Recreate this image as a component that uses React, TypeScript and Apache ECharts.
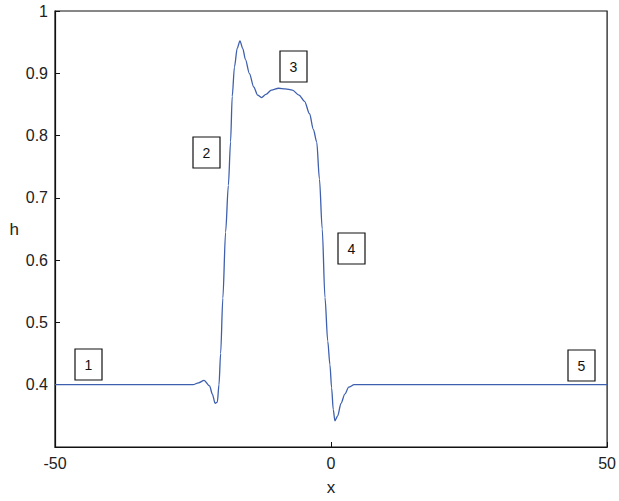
import React, { useEffect, useRef } from "react";
import * as echarts from "echarts";

const xValues = [
  -50, -25, -24, -23, -22, -21.5, -21, -20.6, -20.3, -20, -19.6, -19.1, -18.6, -18.2,
  -17.9, -17.5, -17, -16.5, -16, -15.5, -14.8, -14, -13.3, -12.6, -11.8, -10.8, -9.5,
  -8.3, -7, -5.8, -4.8, -3.9, -3.2, -2.6, -2.1, -1.6, -1.1, -0.6, -0.2, 0.1, 0.4, 0.7,
  1.2, 1.8, 2.5, 3.2, 4.2, 50,
];
const hValues = [
  0.4, 0.4, 0.403, 0.407, 0.398, 0.385, 0.37, 0.372, 0.4, 0.45, 0.539, 0.645, 0.72, 0.79,
  0.863, 0.91, 0.94, 0.952, 0.94, 0.922, 0.9, 0.878, 0.865, 0.861, 0.866, 0.873, 0.876,
  0.875, 0.873, 0.865, 0.855, 0.835, 0.81, 0.79, 0.73, 0.65, 0.54, 0.47, 0.432, 0.395,
  0.36, 0.342, 0.35, 0.37, 0.385, 0.396, 0.4, 0.4,
];
const regionLabels = ["1", "2", "3", "4", "5"];
const xTicks = [-50, 0, 50];
const yTicks = [0.4, 0.5, 0.6, 0.7, 0.8, 0.9, 1];

const boxes = [
  { x: 75, y: 349 },
  { x: 193, y: 137 },
  { x: 280, y: 51 },
  { x: 338, y: 233 },
  { x: 568, y: 350 },
];

export default function App() {
  const ref = useRef<HTMLDivElement>(null);
  useEffect(() => {
    if (!ref.current) return;
    const chart = echarts.init(ref.current, null, { renderer: "svg" });
    const font = "'Liberation Sans', Arial, sans-serif";
    const graphic: any[] = [];
    regionLabels.forEach((lab, i) => {
      const b = boxes[i];
      graphic.push({
        type: "group",
        x: b.x,
        y: b.y,
        children: [
          { type: "rect", shape: { x: 0, y: 0, width: 27, height: 31 }, style: { fill: "#fff", stroke: "#111", lineWidth: 1.2 } },
          { type: "text", x: 13.5, y: 16, style: { text: lab, font: `14px ${font}`, fill: "#111", align: "center", verticalAlign: "middle" } },
        ],
      });
    });
    chart.setOption({
      animation: false,
      backgroundColor: "#fff",
      grid: { left: 55, right: 8, top: 11, bottom: 52, show: true, borderColor: "#111", borderWidth: 1.2, backgroundColor: "transparent" },
      xAxis: {
        type: "value",
        min: -50,
        max: 50,
        interval: 50,
        name: "x",
        nameLocation: "middle",
        nameGap: 32,
        nameTextStyle: { fontFamily: font, fontSize: 17, color: "#222" },
        axisLine: { show: true, onZero: false, lineStyle: { color: "#111", width: 1.2 } },
        axisTick: { show: true, inside: true, length: 5, lineStyle: { color: "#111" } },
        axisLabel: {
          fontFamily: font, fontSize: 16, color: "#222", margin: 8,
          formatter: (v: number) => (xTicks.includes(v) ? String(v) : ""),
        },
        splitLine: { show: false },
      },
      yAxis: {
        type: "value",
        min: 0.3,
        max: 1,
        interval: 0.1,
        name: "h",
        nameLocation: "middle",
        nameGap: 36,
        nameRotate: 0,
        nameTextStyle: { fontFamily: font, fontSize: 17, color: "#222" },
        axisLine: { show: true, onZero: false, lineStyle: { color: "#111", width: 1.2 } },
        axisTick: { show: true, inside: true, length: 5, lineStyle: { color: "#111" } },
        axisLabel: {
          fontFamily: font, fontSize: 16, color: "#222", margin: 7,
          formatter: (v: number) => {
            const r = Math.round(v * 10) / 10;
            if (!yTicks.includes(r)) return "";
            return r === 1 ? "1" : r.toFixed(1);
          },
        },
        splitLine: { show: false },
      },
      series: [
        {
          type: "line",
          data: xValues.map((x, i) => [x, hValues[i]]),
          showSymbol: false,
          smooth: 0.3,
          smoothMonotone: "x",
          lineStyle: { color: "#3d5fae", width: 1.3 },
        },
      ],
      graphic,
    });
    return () => chart.dispose();
  }, []);
  return <div ref={ref} style={{ position: "fixed", left: 0, top: 0, width: 619, height: 501 }} />;
}
